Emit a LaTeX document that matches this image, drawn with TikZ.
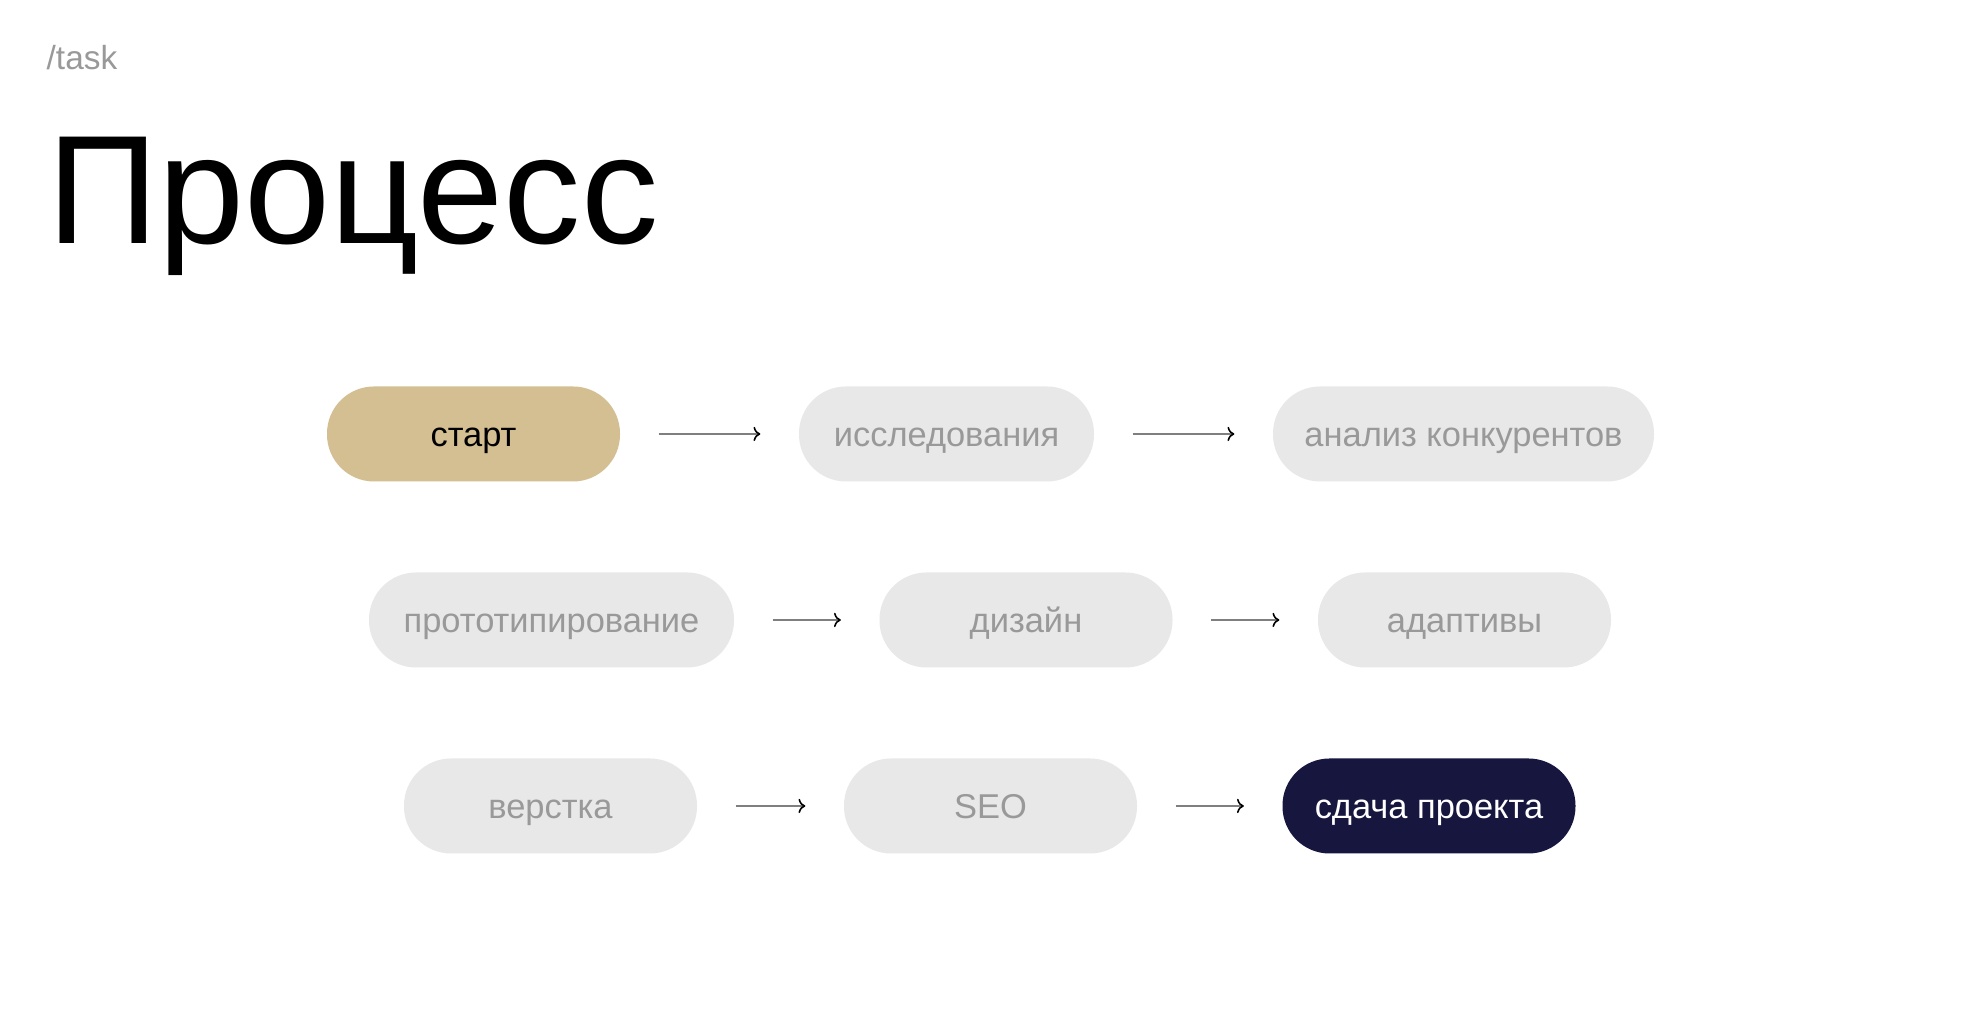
\documentclass[tikz,border=0pt]{standalone}
\usepackage{fontspec}
\setmainfont{Liberation Sans}
\usetikzlibrary{arrows.meta}
\definecolor{pillgray}{HTML}{E8E8E8}
\definecolor{pilltext}{HTML}{999999}
\definecolor{sand}{HTML}{D4BF92}
\definecolor{navy}{HTML}{16163F}
\definecolor{arrowgray}{HTML}{7F7F7F}
\begin{document}
\begin{tikzpicture}[
    pill/.style={rounded corners=0.47cm, minimum height=0.95cm, minimum width=2.93cm,
      inner xsep=0.2cm, text height=7.4pt, text depth=0pt,
      font=\fontsize{9.8}{12}\selectfont, fill=pillgray, text=pilltext},
    flow/.style={-{To[color=black, scale=0.75]}, arrowgray, line width=0.45pt, shorten >=0.38cm, shorten <=0.38cm}
  ]
      \useasboundingbox[fill=white] (0,0) rectangle (19.8,10.2);

      % heading
      \node[anchor=base west, inner sep=0, text=pilltext, font=\fontsize{9.5}{11}\selectfont] (tag) at (0.46,9.50) {/task};
      \node[anchor=base west, inner sep=0, font=\fontsize{44}{48}\selectfont] (title) at (0.47,7.76) {Процесс};

      % first row
      \node[pill, fill=sand, text=black] (start) at (4.735,5.86) {старт};
      \node[pill, minimum width=2.95cm] (research) at (9.465,5.86) {исследования};
      \node[pill, minimum width=3.81cm] (rivals) at (14.635,5.86) {анализ конкурентов};

      % second row
      \node[pill, minimum width=3.65cm] (proto) at (5.515,4.00) {прототипирование};
      \node[pill] (design) at (10.26,4.00) {дизайн};
      \node[pill] (adapt) at (14.645,4.00) {адаптивы};

      % third row
      \node[pill] (layout) at (5.505,2.14) {верстка};
      \node[pill] (seo) at (9.905,2.14) {SEO};
      \node[pill, fill=navy, text=white] (deliver) at (14.29,2.14) {сдача проекта};

      % arrows between the steps
      \draw[flow] (start) -- (research);
      \draw[flow] (research) -- (rivals);
      \draw[flow] (proto) -- (design);
      \draw[flow] (design) -- (adapt);
      \draw[flow] (layout) -- (seo);
      \draw[flow] (seo) -- (deliver);
    \end{tikzpicture}
\end{document}
